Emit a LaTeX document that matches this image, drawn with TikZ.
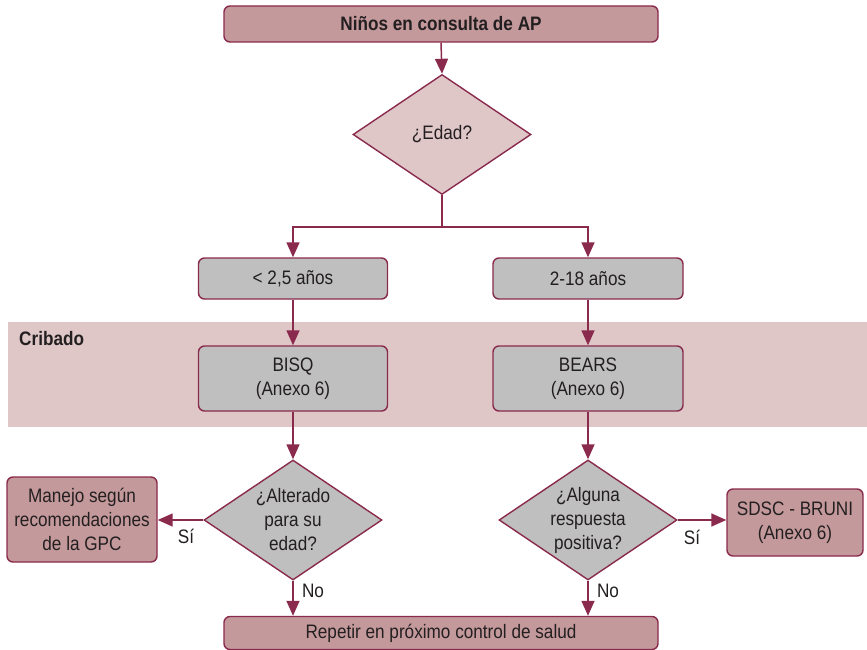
\documentclass[tikz,border=0pt]{standalone}
\usepackage{fontspec}
\setmainfont{Liberation Sans}[FakeStretch=0.88]
\usetikzlibrary{arrows.meta,shapes.geometric}
\definecolor{maroon}{HTML}{8A2A4C}
\definecolor{rose}{HTML}{C4999B}
\definecolor{blush}{HTML}{DFC7C8}
\definecolor{greybox}{HTML}{BFBFBF}
\definecolor{ink}{HTML}{231F20}
\newcommand\flowfont{\fontsize{19.5}{24}\selectfont}
\tikzset{
  box/.style={draw=maroon, line width=1.4pt, rounded corners=6pt, align=center,
    text=ink, font=\flowfont, inner sep=0pt},
  rosebox/.style={box, fill=rose},
  greyb/.style={box, fill=greybox},
  decision/.style={diamond, draw=maroon, line width=1.4pt, inner sep=0pt,
    minimum width=178pt, minimum height=120pt},
  txt/.style={align=center, text=ink, font=\flowfont, inner sep=0pt},
  conn/.style={draw=maroon, line width=1.5pt},
  arr/.style={conn, -{Triangle[length=15pt,width=13pt]}},
}
\begin{document}
\begin{tikzpicture}[x=1pt,y=-1pt]
\useasboundingbox (0,0) rectangle (867,650);
% screening band
\fill[blush] (8,322) rectangle (867,427);
\node[txt, anchor=west, font=\flowfont\bfseries] (crib) at (19,339) {Cribado};

% boxes
\node[rosebox, minimum width=434pt, minimum height=36pt, font=\flowfont\bfseries] (start) at (441,24) {Niños en consulta de AP};
\node[decision, fill=blush] (edad) at (442,134.5) {};
\node[txt] at (edad) {¿Edad?};
\coordinate (split) at (442,227);
\node[greyb, minimum width=189pt, minimum height=41pt] (b1) at (293,278.5) {< 2,5 años};
\node[greyb, minimum width=190pt, minimum height=41pt] (b2) at (588,278.5) {2-18 años};
\node[greyb, minimum width=189pt, minimum height=65pt] (bisq) at (293,378.5) {BISQ\\(Anexo 6)};
\node[greyb, minimum width=190pt, minimum height=65pt] (bears) at (588,378.5) {BEARS\\(Anexo 6)};
\node[decision, fill=greybox] (alt) at (293,520) {};
\node[txt] at (alt) {¿Alterado\\para su\\edad?};
\node[decision, fill=greybox] (alg) at (588,520) {};
\node[txt] at (alg) {¿Alguna\\respuesta\\positiva?};
\node[rosebox, minimum width=150pt, minimum height=85pt] (man) at (82,519.5) {Manejo según\\recomendaciones\\de la GPC};
\node[rosebox, minimum width=136pt, minimum height=67pt] (sdsc) at (795,522.5) {SDSC - BRUNI\\(Anexo 6)};
\node[rosebox, minimum width=434pt, minimum height=33pt] (rep) at (441,633) {Repetir en próximo control de salud};

% connectors
\draw[arr] (start.south) -- (edad.north);
\draw[conn] (edad.south) -- (split);
\draw[arr] (split) -| (b1.north);
\draw[arr] (split) -| (b2.north);
\draw[arr] (b1.south) -- (bisq.north);
\draw[arr] (b2.south) -- (bears.north);
\draw[arr] (bisq.south) -- (alt.north);
\draw[arr] (bears.south) -- (alg.north);
\draw[arr] (alt.west) -- (alt.west -| man.east);
\draw[arr] (alg.east) -- (alg.east -| sdsc.west);
\draw[arr] (alt.south) -- (alt.south |- rep.north);
\draw[arr] (alg.south) -- (alg.south |- rep.north);

% branch labels
\node[txt] (si1) at (186,536) {Sí};
\node[txt] (si2) at (692,537) {Sí};
\node[txt] (no1) at (313,591) {No};
\node[txt] (no2) at (608,591) {No};
\end{tikzpicture}
\end{document}
